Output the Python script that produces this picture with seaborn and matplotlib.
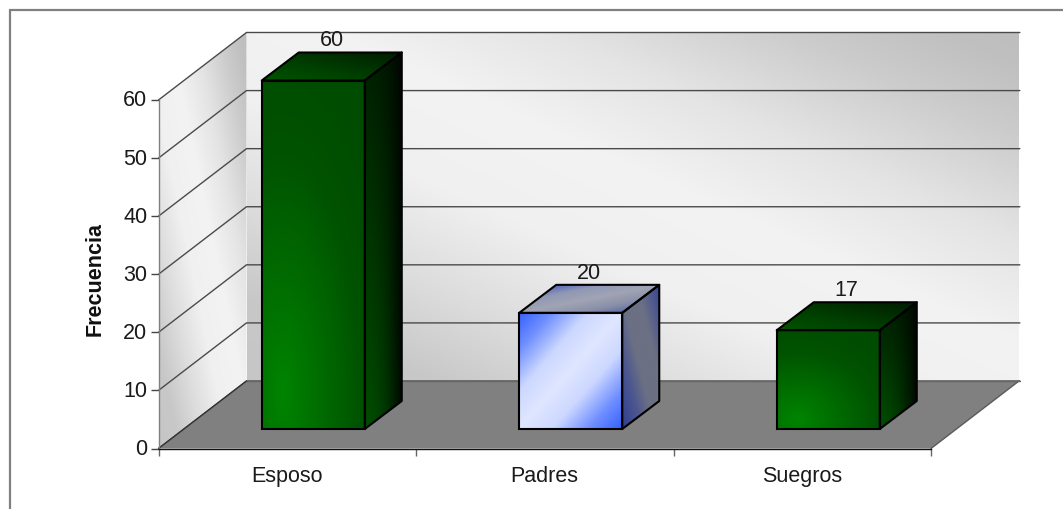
import numpy as np
import matplotlib
matplotlib.use("Agg")
import matplotlib.pyplot as plt
from matplotlib.colors import to_rgb
from matplotlib.lines import Line2D
from matplotlib.patches import Polygon
import seaborn as sns

categories = ["Esposo", "Padres", "Suegros"]
values = [60, 20, 17]
bar_styles = ["green", "blue", "green"]
value_ticks = [0, 10, 20, 30, 40, 50, 60]
axis_title = "Frecuencia"

sns.set_theme(style="white")
plt.rcParams["font.family"] = ["Liberation Sans", "DejaVu Sans"]

fig = plt.figure(figsize=(10.63, 5.10), dpi=100, facecolor="white")
ax = fig.add_axes([158.5 / 1063, 60.5 / 510, 772.5 / 1063, 348.5 / 510])
ax.patch.set_visible(False)

# Oblique depth of the chart box and of the bars, in data units
X_UNIT, Y_UNIT = 257.5, 348.5 / 60
BOX_DX, BOX_DY = 88 / X_UNIT, 67.5 / Y_UNIT
BAR_DX, BAR_DY = 37 / X_UNIT, 28 / Y_UNIT
LIFT_X, LIFT_Y = 26 / X_UNIT, 19.5 / Y_UNIT
X0, X1 = -0.5, 2.5
Y_TOP = value_ticks[-1]


def ramp(t, stops):
    """Piecewise colour ramp over (position, colour) stops."""
    pos = [p for p, _ in stops]
    rgb = np.array([to_rgb(c) for _, c in stops])
    return np.dstack([np.interp(t, pos, rgb[:, i]) for i in range(3)])


def shaded(xy, shader, zorder):
    """Fill a polygon with an RGB gradient computed on its bounding box."""
    xy = np.asarray(xy, float)
    x0, y0 = xy.min(axis=0)
    x1, y1 = xy.max(axis=0)
    v, u = np.mgrid[0:1:240j, 0:1:240j]
    im = ax.imshow(shader(u, v), extent=(x0, x1, y0, y1), origin="lower",
                   aspect="auto", interpolation="bilinear", zorder=zorder)
    im.set_clip_box(fig.bbox)
    im.set_clip_path(Polygon(xy, closed=True, transform=ax.transData))


def wall_shade(u, v):
    s = (u + v) / 2
    return ramp(s, [(0, "#c6c6c6"), (0.12, "#c8c8c8"), (0.25, "#dcdcdc"),
                    (0.4, "#f0f0f0"), (0.55, "#f3f3f3"), (0.7, "#e4e4e4"),
                    (0.85, "#cccccc"), (0.95, "#c0c0c0"), (1, "#bebebe")])


def green_front(u, v):
    w = np.clip(1 - np.hypot((u - 0.2) / 1.1, (v - 0.1) / 1.0), 0, 1)
    return ramp(w, [(0, "#004c00"), (0.3, "#005200"), (1, "#008400")])


def green_side(u, v):
    w = (1 - u ** 2) * (1 - 0.65 * v)
    return ramp(w, [(0, "#000600"), (1, "#004c00")])


def green_top(u, v):
    w = 1 - (u + v) / 2
    return ramp(w, [(0, "#001a00"), (0.6, "#004000"), (1, "#005400")])


def blue_front(u, v):
    s = (u + (1 - v)) / 2
    return ramp(s, [(0, "#3560ff"), (0.16, "#6f8fff"), (0.34, "#cdd8ff"),
                    (0.5, "#dfe6ff"), (0.66, "#cdd8ff"), (0.84, "#6f8fff"),
                    (1, "#3560ff")])


def blue_side(u, v):
    s = (u + v) / 2
    return ramp(s, [(0, "#2f3f90"), (0.25, "#4b5590"), (0.45, "#6c7084"),
                    (0.7, "#6c7084"), (0.88, "#4d5690"), (1, "#3a4690")])


def blue_top(u, v):
    s = (u + (1 - v)) / 2
    return ramp(s, [(0, "#4a60c0"), (0.15, "#5a6cb8"), (0.3, "#9098b4"),
                    (0.5, "#a0a4b4"), (0.7, "#8a90a8"), (0.85, "#6070a8"),
                    (1, "#4a60c0")])


SHADERS = {"green": (green_front, green_side, green_top),
           "blue": (blue_front, blue_side, blue_top)}

sns.barplot(x=categories, y=values, hue=categories, width=0.4, dodge=False,
            palette=["#005000", "#dfe6ff", "#005000"], legend=False, ax=ax)

# Chart box: side wall, back wall, gridlines, floor
side_wall = [(X0, 0), (X0 + BOX_DX, BOX_DY), (X0 + BOX_DX, BOX_DY + Y_TOP), (X0, Y_TOP)]
back_wall = [(X0 + BOX_DX, BOX_DY), (X1 + BOX_DX, BOX_DY),
             (X1 + BOX_DX, BOX_DY + Y_TOP), (X0 + BOX_DX, BOX_DY + Y_TOP)]
floor = [(X0, 0), (X1, 0), (X1 + BOX_DX, BOX_DY), (X0 + BOX_DX, BOX_DY)]
shaded(side_wall, wall_shade, 1)
shaded(back_wall, wall_shade, 1)
for tick in value_ticks:
    ax.plot([X0, X0 + BOX_DX, X1 + BOX_DX * 1.01],
            [tick, tick + BOX_DY, tick + BOX_DY],
            color="#4a4a4a", lw=1.0, zorder=2, clip_on=False,
            solid_joinstyle="miter")
ax.add_patch(Polygon(floor, closed=True, facecolor="#808080", edgecolor="none",
                     zorder=3, clip_on=False))
ax.plot([X1, X1 + BOX_DX], [0, BOX_DY], color="#5a5a5a", lw=1.0, zorder=3.5, clip_on=False)
ax.plot([X0 + BOX_DX, X1 + BOX_DX * 1.01], [BOX_DY, BOX_DY], color="#666666",
        lw=1.0, zorder=3.5, clip_on=False)
ax.plot([X0, X0 + BOX_DX], [0, BOX_DY], color="#333333", lw=1.0, zorder=3.5, clip_on=False)

# Bars: the front face comes from the seaborn patch, then side and top are extruded
for bar, value, style in zip(ax.patches, values, bar_styles):
    left = bar.get_x() + LIFT_X
    right = left + bar.get_width()
    base = LIFT_Y
    top = base + value
    bar.set_xy((left, base))
    bar.set_facecolor("none")
    bar.set_edgecolor("black")
    bar.set_linewidth(1.5)
    bar.set_zorder(6)
    bar.set_clip_on(False)

    front_fn, side_fn, top_fn = SHADERS[style]
    front = [(left, base), (right, base), (right, top), (left, top)]
    side = [(right, base), (right + BAR_DX, base + BAR_DY),
            (right + BAR_DX, top + BAR_DY), (right, top)]
    lid = [(left, top), (right, top), (right + BAR_DX, top + BAR_DY),
           (left + BAR_DX, top + BAR_DY)]
    shaded(front, front_fn, 4)
    shaded(side, side_fn, 4)
    shaded(lid, top_fn, 4)
    for face in (side, lid):
        ax.add_patch(Polygon(face, closed=True, facecolor="none", edgecolor="black",
                             lw=1.5, zorder=5, clip_on=False, joinstyle="round"))
    ax.text((left + right + BAR_DX) / 2, top + BAR_DY + 7 / Y_UNIT, str(value),
            ha="center", va="baseline", fontsize=15.5, color="#1a1a1a", zorder=7)

# Axes
ax.set_xlim(X0, X1)
ax.set_ylim(0, Y_TOP)
ax.set_xticks(range(len(categories)), categories)
ax.set_xticks([X0, 0.5, 1.5, X1], minor=True)
ax.tick_params(axis="x", which="major", length=0, pad=12, labelsize=15.5, labelcolor="#1a1a1a")
ax.tick_params(axis="x", which="minor", length=5, width=1, color="#666666", bottom=True)
ax.set_yticks(value_ticks)
ax.tick_params(axis="y", length=6, width=1, color="#444444", left=True, pad=2,
               labelsize=15.5, labelcolor="#1a1a1a")
for label in ax.get_yticklabels():
    label.set_verticalalignment("center")
ax.set_ylabel(axis_title, fontsize=15.5, fontweight="bold", color="#111111")
ax.yaxis.set_label_coords(-0.069, 0.49)
for name in ("top", "right"):
    ax.spines[name].set_visible(False)
ax.spines["left"].set_color("#808080")
ax.spines["left"].set_linewidth(1)
ax.spines["bottom"].set_color("#111111")
ax.spines["bottom"].set_linewidth(1)
ax.spines["left"].set_zorder(8)
ax.spines["bottom"].set_zorder(8)

# Outer frame, open on the right and at the bottom
frame = dict(color="#808080", lw=1.6, transform=fig.transFigure)
fig.add_artist(Line2D([10 / 1063, 10 / 1063], [0, 1 - 11 / 510], **frame))
fig.add_artist(Line2D([10 / 1063, 1], [1 - 11 / 510, 1 - 11 / 510], **frame))

fig.savefig("out.png", dpi=100, facecolor="white")
